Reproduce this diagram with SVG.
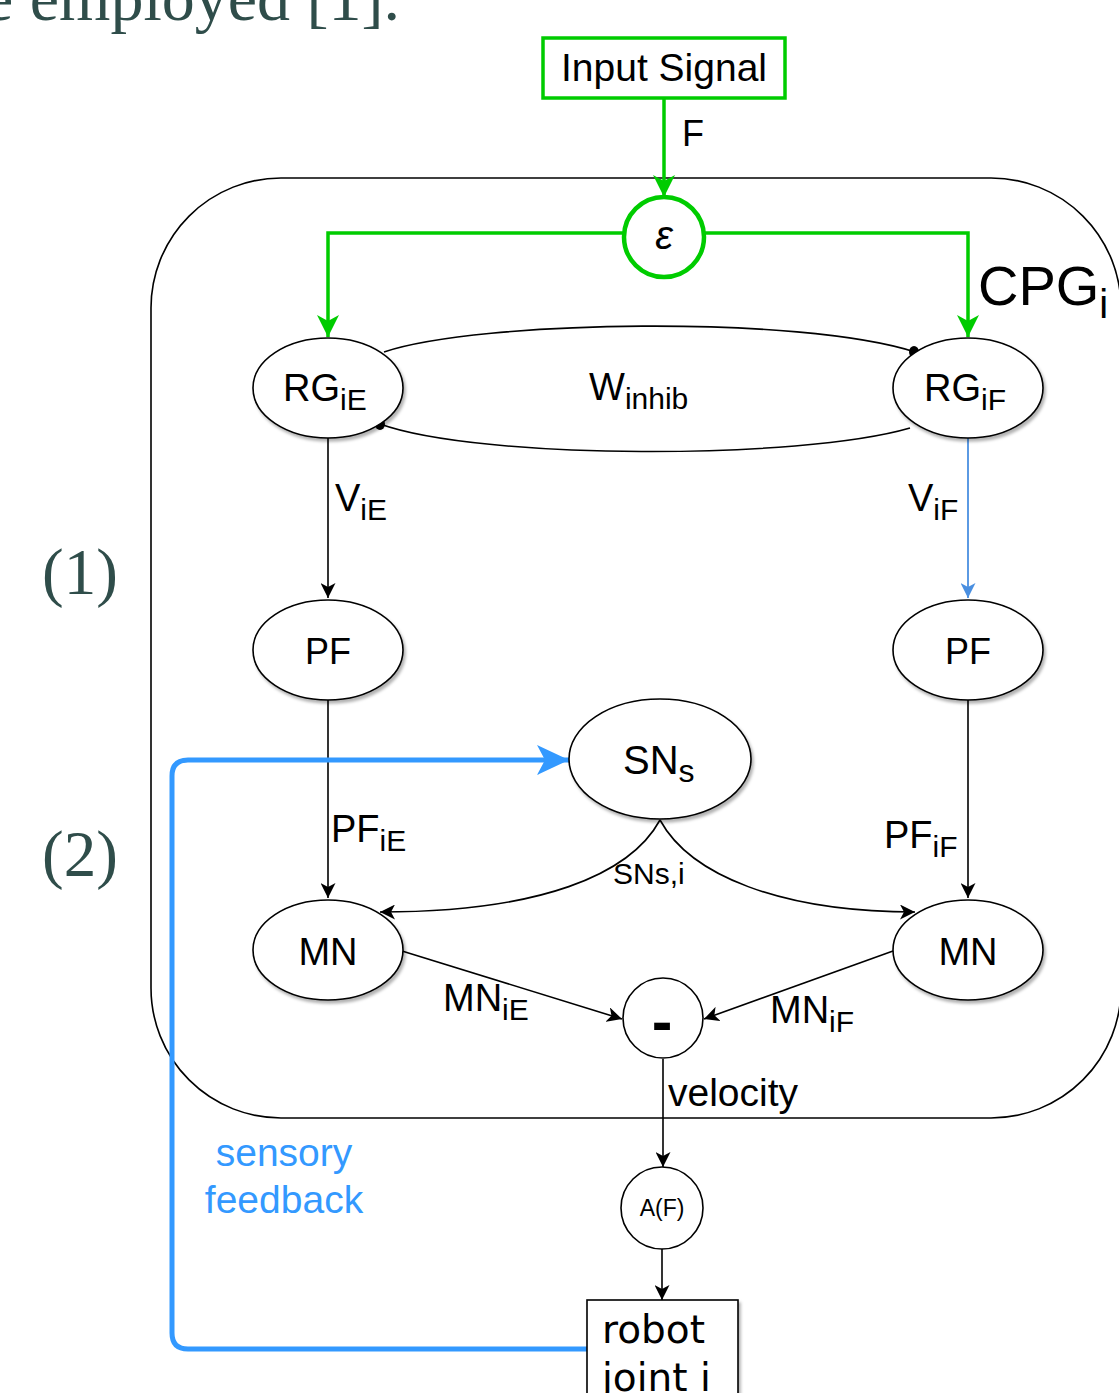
<svg xmlns="http://www.w3.org/2000/svg" width="1119" height="1393" viewBox="0 0 1119 1393">
<style>
  .lbl { font-family: "Liberation Sans", Arial, sans-serif; fill: #000; }
  .node { fill: #fff; stroke: #000; stroke-width: 1.6; }
  .edge { fill: none; stroke: #000; stroke-width: 1.6; }
  .green { fill: none; stroke: #00cc00; stroke-width: 3.5; }
  .serif { font-family: "Liberation Serif", "Times New Roman", serif; fill: #2f4d4a; }
  .blue { fill: #3399ff; }
</style>
<defs>
  <filter id="shadow" x="-20%" y="-20%" width="140%" height="150%">
    <feDropShadow dx="2" dy="3" stdDeviation="1.5" flood-color="#000" flood-opacity="0.3"/>
  </filter>
  <marker id="arrBlack" markerUnits="userSpaceOnUse" markerWidth="15" markerHeight="15" viewBox="0 0 15 15" refX="15" refY="7.5" orient="auto">
    <path d="M0,0 L15,7.5 L0,15 L4,7.5 z" fill="#000"/>
  </marker>
  <marker id="arrGreen" markerUnits="userSpaceOnUse" markerWidth="22" markerHeight="22" viewBox="0 0 22 22" refX="22" refY="11" orient="auto">
    <path d="M0,0 L22,11 L0,22 L6,11 z" fill="#00cc00"/>
  </marker>
  <marker id="arrBlueBig" markerUnits="userSpaceOnUse" markerWidth="32" markerHeight="30" viewBox="0 0 32 30" refX="32" refY="15" orient="auto">
    <path d="M0,0 L32,15 L0,30 L8,15 z" fill="#3399ff"/>
  </marker>
  <marker id="arrBlue" markerUnits="userSpaceOnUse" markerWidth="15" markerHeight="15" viewBox="0 0 15 15" refX="15" refY="7.5" orient="auto">
    <path d="M0,0 L15,7.5 L0,15 L4,7.5 z" fill="#4a8fe0"/>
  </marker>
</defs>

<rect width="1119" height="1393" fill="#fff"/>

<!-- surrounding text -->
<text class="serif" x="-16" y="20" font-size="66">e employed [1].</text>
<text class="serif" x="42" y="594" font-size="65">(1)</text>
<text class="serif" x="42" y="876" font-size="65">(2)</text>

<!-- CPG container -->
<g id="cpg">
  <rect x="151" y="178" width="970" height="940" rx="130" ry="130" fill="none" stroke="#000" stroke-width="1.6"/>
  <text class="lbl" x="978" y="305" font-size="56">CPG<tspan font-size="40" dy="13">i</tspan></text>
</g>

<!-- connectors -->
<g id="connectors">
  <path class="green" d="M664,98 V197" marker-end="url(#arrGreen)"/>
  <path class="green" d="M624,233 H328 V337" marker-end="url(#arrGreen)"/>
  <path class="green" d="M704,233 H968 V337" marker-end="url(#arrGreen)"/>
  <path class="edge" d="M384,352 C480,320 800,315 915,352"/>
  <ellipse cx="914" cy="352" rx="5" ry="6" fill="#000"/>
  <path class="edge" d="M910,428 C800,460 480,460 380,424"/>
  <ellipse cx="380" cy="424" rx="5" ry="6" fill="#000"/>
  <path class="edge" d="M328,438 V598" marker-end="url(#arrBlack)"/>
  <path d="M968,438 V598" fill="none" stroke="#4a8fe0" stroke-width="1.8" marker-end="url(#arrBlue)"/>
  <path class="edge" d="M328,700 V898" marker-end="url(#arrBlack)"/>
  <path class="edge" d="M968,700 V898" marker-end="url(#arrBlack)"/>
  <path class="edge" d="M660,820 C630,875 540,912 380,912" marker-end="url(#arrBlack)"/>
  <path class="edge" d="M660,820 C690,875 780,912 915,912" marker-end="url(#arrBlack)"/>
  <path class="edge" d="M402,951 L622,1019" marker-end="url(#arrBlack)"/>
  <path class="edge" d="M893,951 L704,1019" marker-end="url(#arrBlack)"/>
  <path class="edge" d="M663,1059 V1167" marker-end="url(#arrBlack)"/>
  <path class="edge" d="M662,1249 V1300" marker-end="url(#arrBlack)"/>
  <path d="M587,1349 H188 Q172,1349 172,1333 V776 Q172,760 188,760 H569" fill="none" stroke="#3399ff" stroke-width="5" marker-end="url(#arrBlueBig)"/>
  <!-- edge labels -->
  <text class="lbl" x="682" y="146" font-size="36">F</text>
  <text class="lbl" x="589" y="400" font-size="38">W<tspan font-size="30" dy="9">inhib</tspan></text>
  <text class="lbl" x="335" y="511" font-size="38">V<tspan font-size="30" dy="9">iE</tspan></text>
  <text class="lbl" x="908" y="511" font-size="38">V<tspan font-size="30" dy="9">iF</tspan></text>
  <text class="lbl" x="331" y="842" font-size="38">PF<tspan font-size="30" dy="9">iE</tspan></text>
  <text class="lbl" x="884" y="848" font-size="38">PF<tspan font-size="30" dy="9">iF</tspan></text>
  <text class="lbl" x="613" y="884" font-size="30">SNs,i</text>
  <text class="lbl" x="443" y="1011" font-size="38">MN<tspan font-size="30" dy="9">iE</tspan></text>
  <text class="lbl" x="770" y="1023" font-size="38">MN<tspan font-size="30" dy="9">iF</tspan></text>
  <text class="lbl" x="668" y="1106" font-size="39">velocity</text>
  <text class="lbl blue" x="284" y="1166" font-size="39" text-anchor="middle" style="fill:#3399ff">sensory</text>
  <text class="lbl blue" x="284" y="1213" font-size="39" text-anchor="middle" style="fill:#3399ff">feedback</text>
</g>

<!-- nodes -->
<g id="input-signal">
  <rect x="543" y="38" width="242" height="60" fill="#fff" stroke="#00cc00" stroke-width="3.5"/>
  <text class="lbl" x="664" y="81" font-size="39" text-anchor="middle">Input Signal</text>
</g>
<g id="epsilon">
  <circle cx="664" cy="237" r="40" fill="#fff" stroke="#00cc00" stroke-width="4.5"/>
  <text class="lbl" x="664" y="249" font-size="40" font-style="italic" text-anchor="middle">ε</text>
</g>
<g id="rg-ie">
  <ellipse class="node" cx="328" cy="388" rx="75" ry="50" filter="url(#shadow)"/>
  <text class="lbl" x="283" y="401" font-size="38">RG<tspan font-size="30" dy="9">iE</tspan></text>
</g>
<g id="rg-if">
  <ellipse class="node" cx="968" cy="388" rx="75" ry="50" filter="url(#shadow)"/>
  <text class="lbl" x="924" y="401" font-size="38">RG<tspan font-size="30" dy="9">iF</tspan></text>
</g>
<g id="pf-e">
  <ellipse class="node" cx="328" cy="650" rx="75" ry="50" filter="url(#shadow)"/>
  <text class="lbl" x="328" y="664" font-size="36" text-anchor="middle">PF</text>
</g>
<g id="pf-f">
  <ellipse class="node" cx="968" cy="650" rx="75" ry="50" filter="url(#shadow)"/>
  <text class="lbl" x="968" y="664" font-size="36" text-anchor="middle">PF</text>
</g>
<g id="sns">
  <ellipse class="node" cx="660" cy="759" rx="91" ry="60" filter="url(#shadow)"/>
  <text class="lbl" x="623" y="774" font-size="40">SN<tspan font-size="32" dy="8">s</tspan></text>
</g>
<g id="mn-e">
  <ellipse class="node" cx="328" cy="950" rx="75" ry="50" filter="url(#shadow)"/>
  <text class="lbl" x="328" y="965" font-size="38" text-anchor="middle">MN</text>
</g>
<g id="mn-f">
  <ellipse class="node" cx="968" cy="950" rx="75" ry="50" filter="url(#shadow)"/>
  <text class="lbl" x="968" y="965" font-size="38" text-anchor="middle">MN</text>
</g>
<g id="minus">
  <circle class="node" cx="663" cy="1018" r="40"/>
  <text class="lbl" x="662" y="1042" font-size="62" font-weight="bold" text-anchor="middle">-</text>
</g>
<g id="af">
  <circle class="node" cx="662" cy="1208" r="41"/>
  <text class="lbl" x="662" y="1216" font-size="23" text-anchor="middle">A(F)</text>
</g>
<g id="robot-joint">
  <rect class="node" x="587" y="1300" width="151" height="110" filter="url(#shadow)"/>
  <text x="602" y="1343" font-size="39" font-family="'DejaVu Sans', Verdana, sans-serif">robot</text>
  <text x="602" y="1391" font-size="39" font-family="'DejaVu Sans', Verdana, sans-serif">joint i</text>
</g>
</svg>
